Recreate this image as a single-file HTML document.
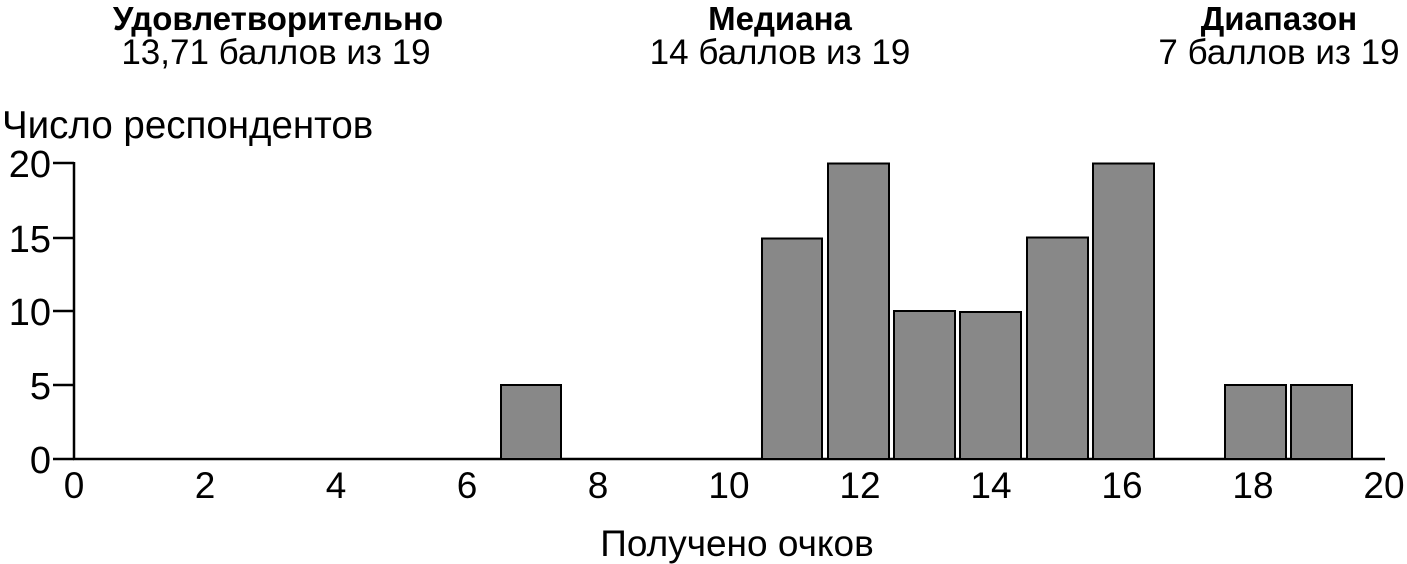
<!DOCTYPE html>
<html><head><meta charset="utf-8"><style>
body{margin:0;background:#fff;}
svg{display:block;font-family:"Liberation Sans",Arial,sans-serif;}
</style></head><body>
<svg width="1407" height="564" viewBox="0 0 1407 564">
<g text-anchor="middle" fill="#000">
<text x="278" y="30" font-size="33" font-weight="bold">Удовлетворительно</text>
<text x="276" y="64" font-size="35">13,71 баллов из 19</text>
<text x="780" y="30" font-size="33" font-weight="bold">Медиана</text>
<text x="780" y="64" font-size="35">14 баллов из 19</text>
<text x="1279" y="30" font-size="33" font-weight="bold">Диапазон</text>
<text x="1279" y="64" font-size="35">7 баллов из 19</text>
</g>
<text x="2" y="138" font-size="38.5">Число респондентов</text>
<g stroke="#000" stroke-width="2.5" fill="none">
<line x1="74" y1="162" x2="74" y2="459"/>
<line x1="73" y1="459" x2="1385" y2="459"/>
<line x1="53" y1="163" x2="74" y2="163"/>
<line x1="53" y1="238" x2="74" y2="238"/>
<line x1="53" y1="311" x2="74" y2="311"/>
<line x1="53" y1="385" x2="74" y2="385"/>
<line x1="53" y1="459" x2="74" y2="459"/>
</g>
<g font-size="38" text-anchor="end">
<text x="51" y="177">20</text>
<text x="51" y="252">15</text>
<text x="51" y="325">10</text>
<text x="51" y="399">5</text>
<text x="51" y="473">0</text>
</g>
<g font-size="37" text-anchor="middle">
<text x="74" y="498">0</text>
<text x="205" y="498">2</text>
<text x="336" y="498">4</text>
<text x="467" y="498">6</text>
<text x="598" y="498">8</text>
<text x="729" y="498">10</text>
<text x="860" y="498">12</text>
<text x="991" y="498">14</text>
<text x="1122" y="498">16</text>
<text x="1253" y="498">18</text>
<text x="1384" y="498">20</text>
<text x="737" y="556">Получено очков</text>
</g>
<g fill="#888" stroke="#000" stroke-width="2">
<rect x="501" y="385" width="60" height="74"/>
<rect x="762" y="238.5" width="60" height="220.5"/>
<rect x="828" y="163.5" width="61" height="295.5"/>
<rect x="894" y="311" width="61" height="148"/>
<rect x="960" y="312" width="61" height="147"/>
<rect x="1027" y="237.5" width="61" height="221.5"/>
<rect x="1093" y="163.5" width="61" height="295.5"/>
<rect x="1225" y="385" width="61" height="74"/>
<rect x="1291" y="385" width="61" height="74"/>
</g>
</svg>
</body></html>
